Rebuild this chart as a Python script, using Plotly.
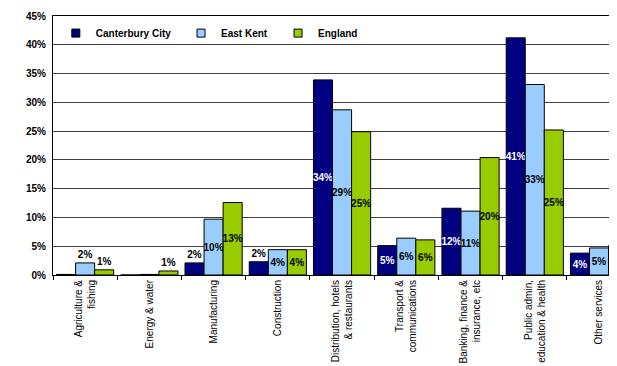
import plotly.graph_objects as go

categories = ["Agriculture &<br>fishing", "Energy & water", "Manufacturing", "Construction",
              "Distribution, hotels<br>& restaurants", "Transport &<br>communications",
              "Banking, finance &<br>insurance, etc", "Public admin,<br>education & health",
              "Other services"]
canterbury = [0.1, 0.0, 2.1, 2.3, 33.9, 5.1, 11.6, 41.2, 3.8]
east_kent = [2.1, 0.1, 9.7, 4.4, 28.7, 6.4, 11.1, 33.1, 4.7]
england = [0.9, 0.7, 12.6, 4.4, 24.9, 6.1, 20.4, 25.2, 5.1]
canterbury_labels = ["", "", "2%", "2%", "34%", "5%", "12%", "41%", "4%"]
east_kent_labels = ["2%", "", "10%", "4%", "29%", "6%", "11%", "33%", "5%"]
england_labels = ["1%", "1%", "13%", "4%", "25%", "6%", "20%", "25%", "5%"]

FONT = "Liberation Sans, Arial, sans-serif"

def positions(vals):
    return ["outside" if v < 3 else "inside" for v in vals]

def colors(vals, inside_color):
    return [("black" if v < 3 else inside_color) for v in vals]

series = [
    ("Canterbury City", canterbury, canterbury_labels, "#000080", "white", "legend"),
    ("East Kent", east_kent, east_kent_labels, "#99CCFF", "black", "legend2"),
    ("England", england, england_labels, "#99CC00", "black", "legend3"),
]

fig = go.Figure()
for name, vals, labels, color, tcol, leg in series:
    fig.add_trace(go.Bar(
        name=name, x=categories, y=vals, text=labels,
        textposition=positions(vals), insidetextanchor="middle", textangle=0,
        textfont=dict(family=FONT, size=10, color=colors(vals, tcol), weight="bold"),
        marker=dict(color=color, line=dict(color="black", width=1)),
        cliponaxis=True, showlegend=False,
    ))
# legend-only entries with small square keys
for name, vals, labels, color, tcol, leg in series:
    fig.add_trace(go.Scatter(
        name=name, x=[None], y=[None], mode="markers",
        marker=dict(symbol="square", size=8, color=color, line=dict(color="black", width=1)),
        legend=leg, showlegend=True, hoverinfo="skip",
    ))

legfont = dict(family=FONT, size=10, color="black", weight="bold")
# page body has an 8px margin, so the figure is sized/offset to compensate
fig.update_layout(
    width=609, height=358,
    margin=dict(l=45, r=0, t=8, b=91, autoexpand=False),
    paper_bgcolor="white", plot_bgcolor="white",
    barmode="group", bargap=0.11, bargroupgap=0,
    showlegend=True,
    uniformtext=dict(minsize=10, mode="show"),
    legend=dict(x=0.005, y=0.934, yanchor="middle", xanchor="left", font=legfont, bgcolor="rgba(0,0,0,0)"),
    legend2=dict(x=0.227, y=0.934, yanchor="middle", xanchor="left", font=legfont, bgcolor="rgba(0,0,0,0)"),
    legend3=dict(x=0.399, y=0.934, yanchor="middle", xanchor="left", font=legfont, bgcolor="rgba(0,0,0,0)"),
    xaxis=dict(range=[-0.5, 8.28], showline=True, linecolor="black", linewidth=1, mirror=True,
               ticks="outside", tickson="boundaries", ticklen=4, tickcolor="black",
               tickangle=-90, tickfont=dict(family=FONT, size=10, color="black"),
               showgrid=False, automargin=False),
    yaxis=dict(range=[0, 45], dtick=5, ticksuffix="%", showline=True, linecolor="black", linewidth=1,
               ticks="", ticklabelstandoff=4,
               tickfont=dict(family=FONT, size=10, color="black", weight="bold"),
               showgrid=True, gridcolor="#404040", gridwidth=1, zeroline=False, automargin=False),
)

fig.write_html("out.html")
